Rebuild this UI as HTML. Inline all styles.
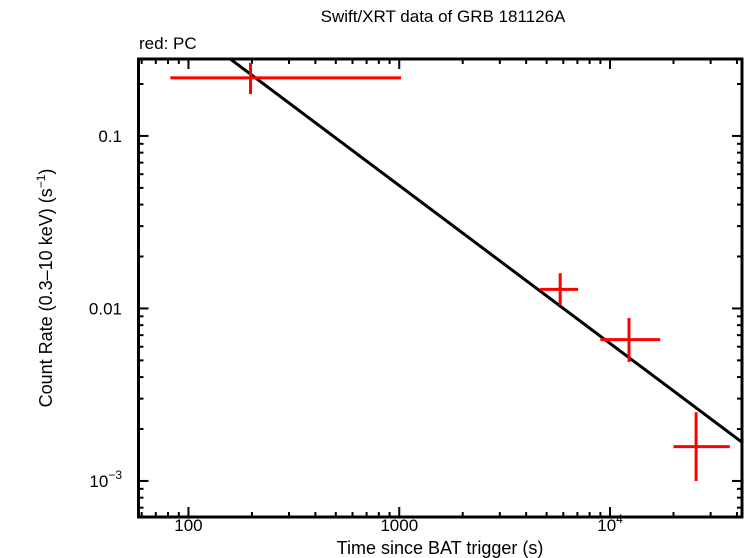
<!DOCTYPE html>
<html><head><meta charset="utf-8"><style>
body{margin:0;background:#fff;}
svg{display:block;font-family:"Liberation Sans",sans-serif;}
</style></head><body>
<svg id="chart" width="746" height="558" viewBox="0 0 746 558" xmlns="http://www.w3.org/2000/svg">
<text x="443" y="22" font-size="17" text-anchor="middle">Swift/XRT data of GRB 181126A</text>
<text x="139" y="49" font-size="17">red: PC</text>
<text x="440" y="554" font-size="18" text-anchor="middle">Time since BAT trigger (s)</text>
<text transform="translate(52,288) rotate(-90)" font-size="18" text-anchor="middle">Count Rate (0.3–10 keV) (s<tspan font-size="12" dy="-7">−1</tspan><tspan dy="7">)</tspan></text>
<g id="ticks"></g>
<g id="marks"></g>
<rect x="138.5" y="59" width="603.5" height="458" fill="none" stroke="#000" stroke-width="3"/>
</svg>
<script>
const xTickVals=[100,1000,10000];
const xTickLabels=["100","1000","10^4"];
const yTickVals=[0.1,0.01,0.001];
const yTickLabels=["0.1","0.01","10^-3"];
const times=[197,5800,12300,25600];
const timeLo=[82,4650,9000,20000];
const timeHi=[1020,7050,17300,37000];
const rates=[0.217,0.0129,0.0066,0.00158];
const rateLo=[0.175,0.0104,0.0049,0.001];
const rateHi=[0.265,0.016,0.0088,0.0025];
const modelT=[120,42300];
const modelNorm=0.279, modelT0=158, modelSlope=-0.915;

const X0=138.5,X1=742,Y0=59,Y1=517;
const lxMin=1.763,lxMax=4.626,lyMin=-3.209,lyMax=-0.554;
const sx=v=>X0+(Math.log10(v)-lxMin)/(lxMax-lxMin)*(X1-X0);
const sy=v=>Y1-(Math.log10(v)-lyMin)/(lyMax-lyMin)*(Y1-Y0);
const NS="http://www.w3.org/2000/svg";
function mk(tag,attrs,parent){const e=document.createElementNS(NS,tag);for(const k in attrs)e.setAttribute(k,attrs[k]);parent.appendChild(e);return e;}
const tg=document.getElementById('ticks'),mg=document.getElementById('marks');
function lab(s,x,y,anchor,parent){
  const t=mk('text',{x:x,y:y,'font-size':17,'text-anchor':anchor},parent);
  const m=s.split('^');t.textContent=m[0];
  if(m[1]){const ts=mk('tspan',{'font-size':12,dy:-8},t);ts.textContent=m[1].replace('-','−');}
  return t;
}
for(let d=1;d<=4;d++)for(let k=1;k<10;k++){const v=k*Math.pow(10,d);const x=sx(v);if(x<X0+1||x>X1-1)continue;const L=k==1?10:5;
  let l=mk('line',{x1:x,x2:x,y1:Y1,y2:Y1-L,stroke:'#000','stroke-width':2},tg);
  l=mk('line',{x1:x,x2:x,y1:Y0,y2:Y0+L,stroke:'#000','stroke-width':2},tg);}
for(let d=-4;d<=0;d++)for(let k=1;k<10;k++){const v=k*Math.pow(10,d);const y=sy(v);if(y<Y0+1||y>Y1-1)continue;const L=k==1?10:5;
  let l=mk('line',{x1:X0,x2:X0+L,y1:y,y2:y,stroke:'#000','stroke-width':2},tg);
  l=mk('line',{x1:X1,x2:X1-L,y1:y,y2:y,stroke:'#000','stroke-width':2},tg);}
xTickVals.forEach((v,i)=>{const t=lab(xTickLabels[i],sx(v),531,'middle',tg);
  
  });
yTickVals.forEach((v,i)=>{const t=lab(yTickLabels[i],122,sy(v)+6,'end',tg);
  
  });
const f=t=>modelNorm*Math.pow(t/modelT0,modelSlope);
const cp=mk('clipPath',{id:'cp'},mg);mk('rect',{x:X0,y:Y0,width:X1-X0,height:Y1-Y0},cp);
const ml=mk('line',{x1:sx(modelT[0]),y1:sy(f(modelT[0])),x2:sx(modelT[1]),y2:sy(f(modelT[1])),stroke:'#000','stroke-width':3,'clip-path':'url(#cp)'},mg);


times.forEach((t,i)=>{
  const g=mk('g',{},mg);
  
  
  mk('line',{x1:sx(timeLo[i]),x2:sx(timeHi[i]),y1:sy(rates[i]),y2:sy(rates[i]),stroke:'#f00','stroke-width':3},g);
  mk('line',{x1:sx(t),x2:sx(t),y1:sy(rateLo[i]),y2:sy(rateHi[i]),stroke:'#f00','stroke-width':3},g);
});
</script>
</body></html>
